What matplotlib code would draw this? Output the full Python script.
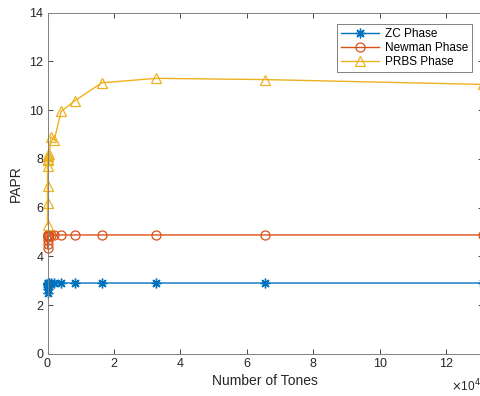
import matplotlib
matplotlib.use("Agg")
import matplotlib.pyplot as plt
import numpy as np

plt.rcParams['font.family'] = ['Liberation Sans', 'DejaVu Sans']

tones = [2, 4, 8, 16, 32, 64, 128, 256, 512, 1024, 2048, 4096, 8192, 16384, 32768, 65536, 131072]
zc_papr = [2.5, 2.65, 2.75, 2.82, 2.86, 2.88, 2.9, 2.9, 2.91, 2.91, 2.91, 2.91, 2.91, 2.91, 2.91, 2.91, 2.91]
newman_papr = [4.35, 4.5, 4.67, 4.8, 4.84, 4.86, 4.87, 4.88, 4.88, 4.88, 4.88, 4.88, 4.88, 4.88, 4.88, 4.88, 4.88]
prbs_papr = [5.3, 6.2, 6.9, 7.7, 7.95, 8.15, 8.0, 8.1, 8.2, 8.9, 8.77, 9.95, 10.38, 11.12, 11.3, 11.25, 11.05]

series_labels = ["ZC Phase", "Newman Phase", "PRBS Phase"]
x_label = "Number of Tones"
y_label = "PAPR"

c_blue = (0, 0.447, 0.741)
c_red = (0.85, 0.325, 0.098)
c_yel = (0.929, 0.694, 0.125)
axc = (0.15, 0.15, 0.15)

W, H = 480, 396
fig = plt.figure(figsize=(W / 100, H / 100), dpi=100)
left, right, bottom, top = 47.5, 483, 354, 12.5
ax = fig.add_axes([left / W, (H - bottom) / H, (right - left) / W, (bottom - top) / H])

x = np.array(tones) / 1e4
ax.plot(x, zc_papr, '-', marker=(8, 2, 0), color=c_blue, lw=1, ms=7, mew=1.0, label=series_labels[0], clip_on=False)
ax.plot(x, newman_papr, '-o', color=c_red, lw=1, ms=6.5, mew=0.9, mfc='none', label=series_labels[1], clip_on=False)
ax.plot(x, prbs_papr, '-^', color=c_yel, lw=1, ms=7, mew=0.9, mfc='none', label=series_labels[2], clip_on=False)

ax.set_xlim(0, tones[-1] / 1e4)
ax.set_ylim(0, 14)
ax.set_xticks(np.arange(0, 13, 2))
ax.set_yticks(np.arange(0, 15, 2))
ax.tick_params(direction='in', length=3.5, width=0.6, colors=axc, labelsize=9,
               top=True, right=True, pad=3)
for lab in ax.get_xticklabels() + ax.get_yticklabels():
    lab.set_color(axc)
for s in ax.spines.values():
    s.set_color((0.5, 0.5, 0.5))
    s.set_linewidth(0.7)

ax.set_xlabel(x_label, fontsize=10, color=axc, labelpad=3)
ax.set_ylabel(y_label, fontsize=10, color=axc, labelpad=5)

fig.text(451 / W, 1 - 386 / H, r"$\times$10$^4$", fontsize=8.5, color=axc, va='center', ha='left')

leg = ax.legend(loc='upper right', bbox_to_anchor=((472 - left) / (right - left), (bottom - 24) / (bottom - top)),
                fontsize=8.5, frameon=True, fancybox=False, borderpad=0.35, labelspacing=0.15,
                handlelength=3.2, handletextpad=0.5, borderaxespad=0)
leg.get_frame().set_edgecolor((0.5, 0.5, 0.5))
leg.get_frame().set_linewidth(0.7)
leg.get_frame().set_alpha(1)

fig.savefig("out.png", dpi=100)
